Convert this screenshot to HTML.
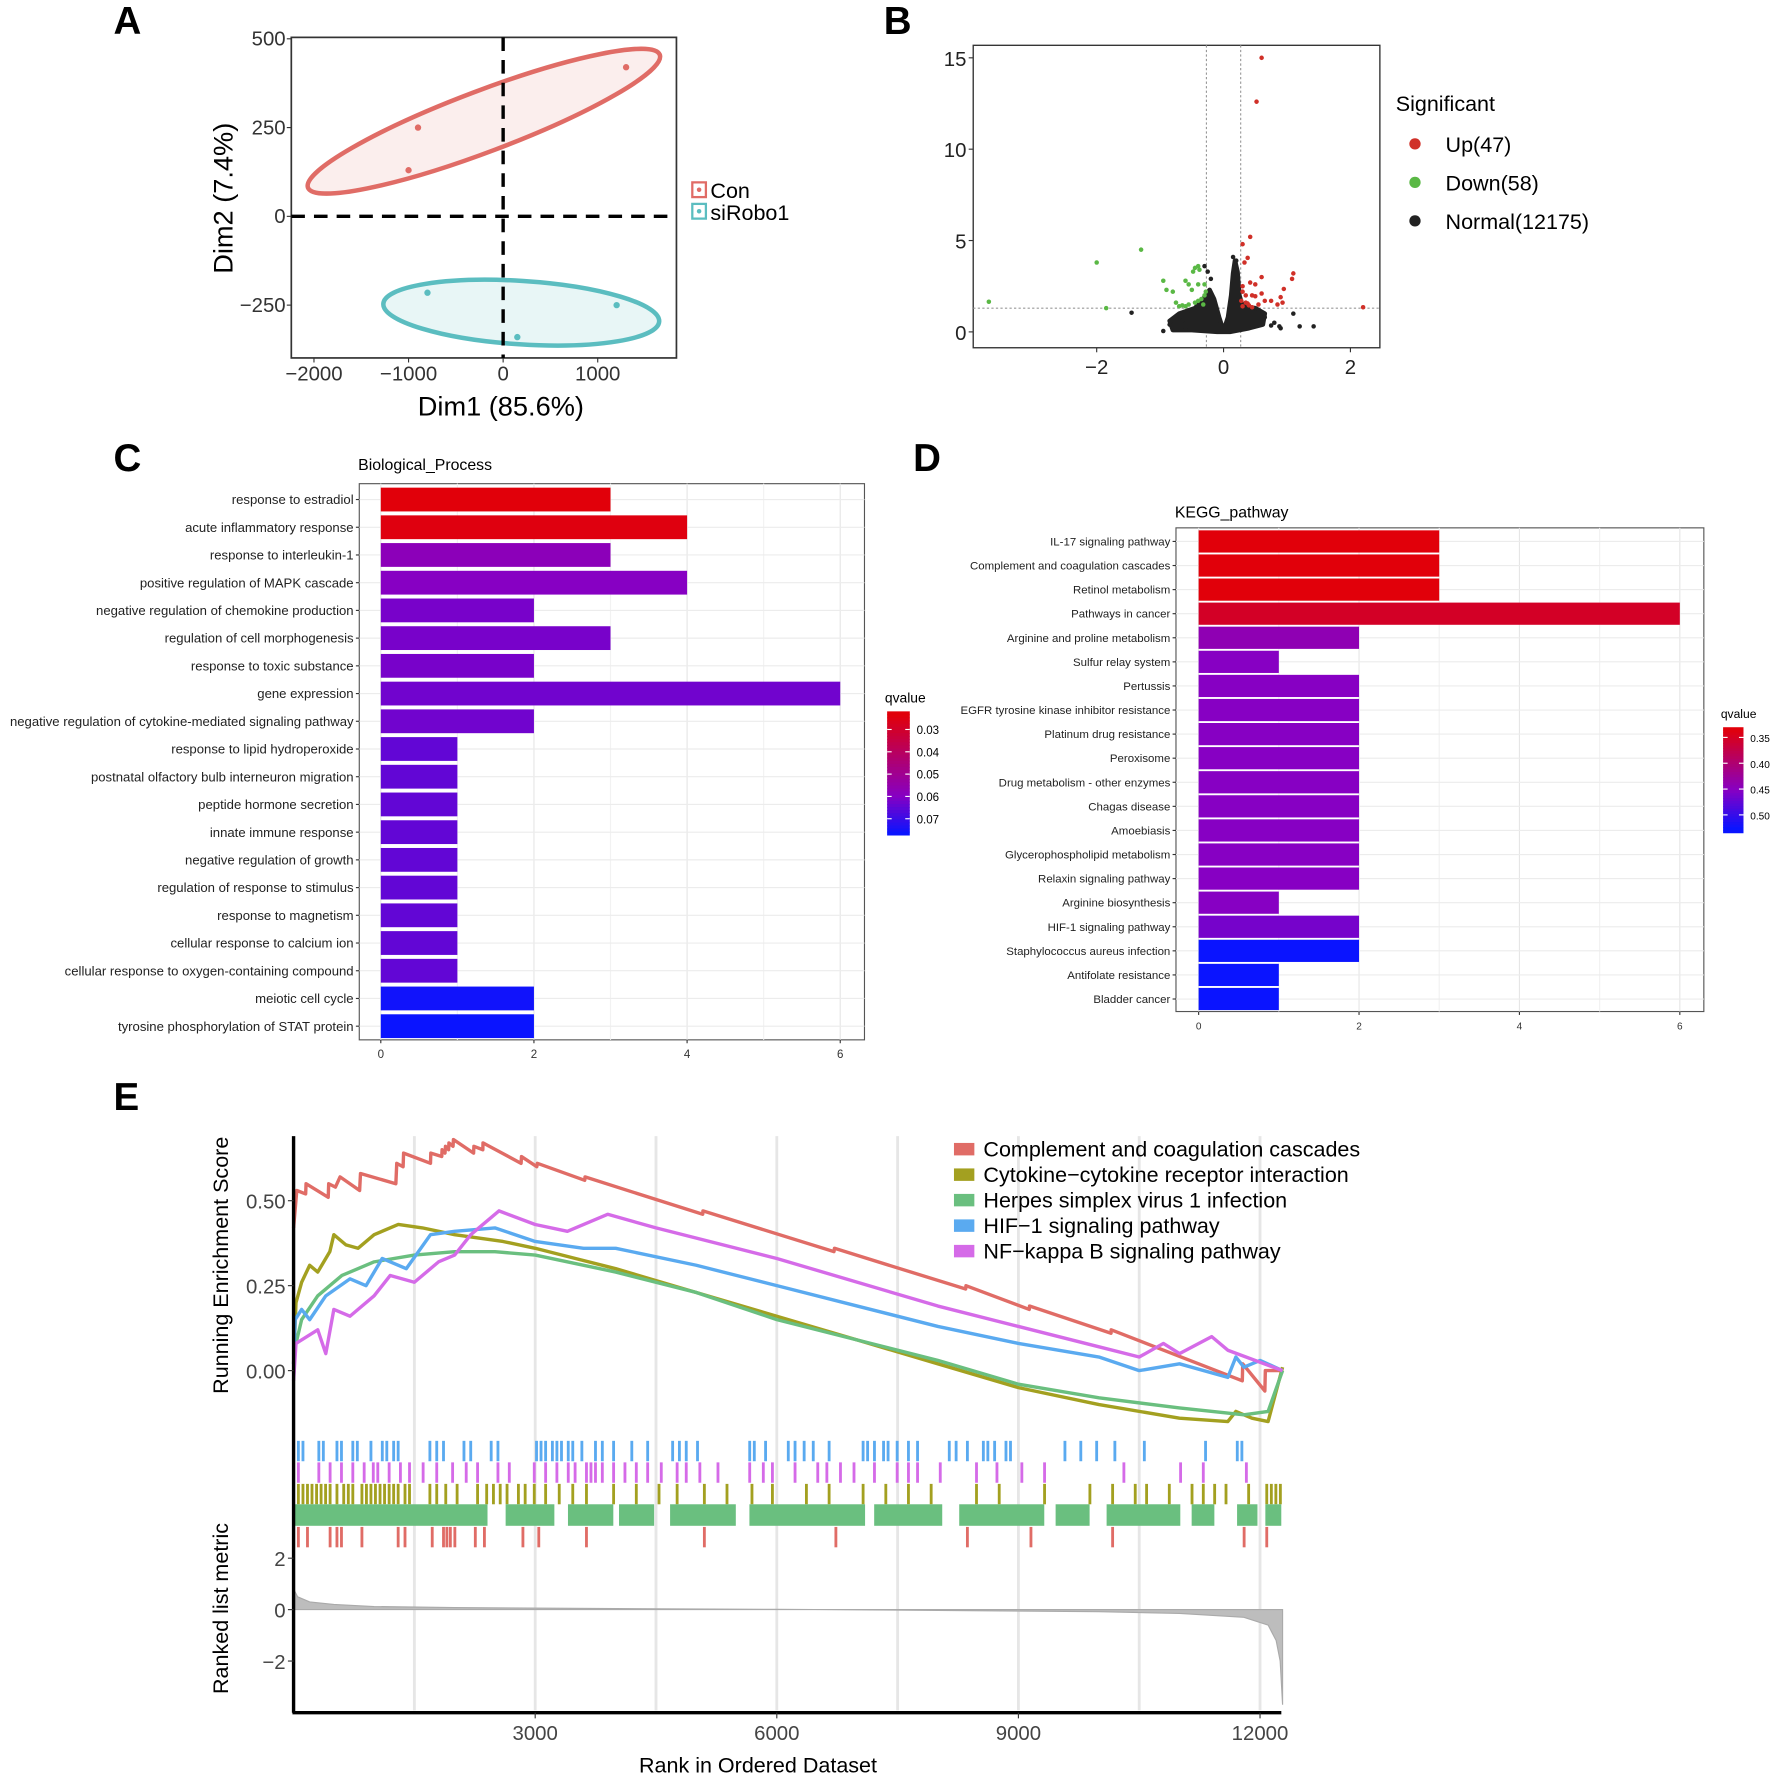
<!DOCTYPE html>
<html><head><meta charset="utf-8"><style>
html,body{margin:0;padding:0;background:#fff;}
svg{display:block;font-family:"Liberation Sans",Arial,sans-serif;}
</style></head><body>
<svg id="fig" width="1772" height="1775" viewBox="0 0 1564 1567" xmlns="http://www.w3.org/2000/svg">
<rect width="1564" height="1567" fill="#fff"/>
<g id="A"></g>
<g id="B"></g>
<g id="C"></g>
<g id="D"></g>
<g id="E"></g>
</svg>
<script>
// ---------- DATA ----------
// Panel A
const pcaConX=[1300,-900,-1000], pcaConY=[420,250,130];
const pcaSiX=[-800,1200,150], pcaSiY=[-215,-250,-340];
const pcaXTicks=[-2000,-1000,0,1000], pcaYTicks=[500,250,0,-250];
const pcaGroups=["Con","siRobo1"];
// Panel B
const upX=[0.6,0.52,0.42,0.3,0.33,0.38,0.6,0.42,0.3,0.5,1.1,1.08,0.95,0.9,0.93,0.6,0.3,0.35,0.45,0.5,0.75,0.65,0.35,0.4,0.55,0.3,0.45,2.2,0.85,0.28,0.38];
const upY=[15,12.6,5.2,4.8,3.8,4.05,3.0,2.7,2.5,2.6,3.2,2.9,2.35,1.9,1.6,2.1,2.2,2.0,2.0,1.95,1.7,1.7,1.6,1.45,1.5,1.4,1.35,1.35,1.5,1.7,1.55];
const downX=[-3.7,-2.0,-1.3,-1.85,-0.95,-0.9,-0.8,-0.75,-0.7,-0.6,-0.55,-0.45,-0.4,-0.48,-0.38,-0.4,-0.5,-0.55,-0.45,-0.35,-0.3,-0.3,-0.4,-0.6,-0.65,-0.32,-0.28];
const downY=[1.65,3.8,4.5,1.3,2.8,2.3,2.2,1.6,1.4,2.8,2.6,3.5,3.6,3.3,3.4,2.6,2.3,1.5,1.6,1.8,2.0,2.6,1.7,1.4,1.45,1.5,2.2];
const normX=[-0.95,-1.45,-0.3,-0.25,0.15,0.2,0.8,1.1,1.2,1.42,0.9,-0.7,-0.65,0.75,-0.2,0.65,-0.85,0.88,-0.6,0.55];
const normY=[0.05,1.05,3.6,3.3,4.1,3.9,0.5,1.0,0.3,0.3,0.2,0.7,0.6,0.35,2.9,0.8,0.4,0.3,0.15,1.1];
const cloudX=[-0.8,-0.85,-0.7,-0.45,-0.3,-0.22,-0.15,-0.07,0,0.07,0.12,0.15,0.18,0.22,0.25,0.3,0.5,0.65,0.62,0.4,0.1,-0.1,-0.5];
const cloudY=[0.1,0.6,1.0,1.3,1.9,2.3,1.8,0.8,0.05,0.8,2.0,3.2,3.9,3.3,2.0,1.4,1.3,1.0,0.4,0.2,0.0,0.0,0.1];
const volXTicks=[-2,0,2], volYTicks=[0,5,10,15];
const volLegend=["Up(47)","Down(58)","Normal(12175)"];
// Panel C
const goTerms=["response to estradiol","acute inflammatory response","response to interleukin-1","positive regulation of MAPK cascade","negative regulation of chemokine production","regulation of cell morphogenesis","response to toxic substance","gene expression","negative regulation of cytokine-mediated signaling pathway","response to lipid hydroperoxide","postnatal olfactory bulb interneuron migration","peptide hormone secretion","innate immune response","negative regulation of growth","regulation of response to stimulus","response to magnetism","cellular response to calcium ion","cellular response to oxygen-containing compound","meiotic cell cycle","tyrosine phosphorylation of STAT protein"];
const goCounts=[3,4,3,4,2,3,2,6,2,1,1,1,1,1,1,1,1,1,2,2];
const goQ=[0.023,0.024,0.058,0.06,0.062,0.062,0.062,0.063,0.063,0.065,0.065,0.065,0.065,0.065,0.065,0.065,0.065,0.065,0.076,0.077];
const goXTicks=[0,2,4,6], goQTicks=[0.03,0.04,0.05,0.06,0.07];
// Panel D
const keggTerms=["IL-17 signaling pathway","Complement and coagulation cascades","Retinol metabolism","Pathways in cancer","Arginine and proline metabolism","Sulfur relay system","Pertussis","EGFR tyrosine kinase inhibitor resistance","Platinum drug resistance","Peroxisome","Drug metabolism - other enzymes","Chagas disease","Amoebiasis","Glycerophospholipid metabolism","Relaxin signaling pathway","Arginine biosynthesis","HIF-1 signaling pathway","Staphylococcus aureus infection","Antifolate resistance","Bladder cancer"];
const keggCounts=[3,3,3,6,2,1,2,2,2,2,2,2,2,2,2,1,2,2,1,1];
const keggQ=[0.332,0.332,0.332,0.35,0.44,0.45,0.45,0.45,0.45,0.45,0.45,0.45,0.45,0.45,0.45,0.45,0.46,0.525,0.525,0.525];
const keggXTicks=[0,2,4,6], keggQTicks=[0.35,0.40,0.45,0.50];
// Panel E
const gseaNames=["Complement and coagulation cascades","Cytokine\u2212cytokine receptor interaction","Herpes simplex virus 1 infection","HIF\u22121 signaling pathway","NF\u2212kappa B signaling pathway"];
const esRedR=[0,40,150,155,430,436,520,577,820,831,1270,1281,1360,1366,1700,1704,1840,1844,1880,1886,1925,1929,1980,1985,2235,2239,2350,2352,2825,2830,3020,3027,3615,3619,5080,5083,6710,6716,8345,8349,9135,9138,10150,10152,11780,11785,12060,12066,12280];
const esRedV=[0.42,0.53,0.52,0.55,0.51,0.55,0.54,0.57,0.53,0.58,0.55,0.61,0.60,0.64,0.61,0.64,0.63,0.65,0.64,0.66,0.65,0.67,0.66,0.68,0.64,0.66,0.65,0.67,0.61,0.63,0.60,0.61,0.56,0.57,0.46,0.47,0.35,0.36,0.24,0.25,0.18,0.19,0.11,0.12,-0.03,0.02,-0.06,0.0,0.0];
const esOliveR=[0,30,100,200,300,450,500,650,800,1000,1300,1600,2000,2300,2600,3000,3500,4000,5000,6000,7000,8000,9000,10000,11000,11600,11700,11900,12100,12280];
const esOliveV=[0.02,0.20,0.26,0.31,0.29,0.35,0.40,0.37,0.36,0.40,0.43,0.42,0.40,0.39,0.38,0.36,0.33,0.30,0.23,0.16,0.09,0.02,-0.05,-0.10,-0.14,-0.15,-0.12,-0.14,-0.15,0.01];
const esGreenR=[0,100,300,600,1000,1500,2000,2500,3000,4000,5000,6000,7000,8000,9000,10000,11000,11800,12100,12280];
const esGreenV=[0.05,0.15,0.22,0.28,0.32,0.34,0.35,0.35,0.34,0.29,0.23,0.15,0.09,0.03,-0.04,-0.08,-0.11,-0.13,-0.12,0.0];
const esBlueR=[0,20,100,200,400,700,900,1100,1400,1700,2000,2500,3000,3600,4000,5000,6000,7000,8000,9000,10000,10500,11000,11600,11700,11800,12000,12280];
const esBlueV=[0.02,0.15,0.18,0.15,0.22,0.27,0.25,0.33,0.30,0.40,0.41,0.42,0.38,0.36,0.36,0.31,0.25,0.19,0.13,0.08,0.04,0.0,0.02,-0.02,0.04,0.01,0.03,0.0];
const esMagR=[0,30,300,400,500,700,1000,1200,1500,1800,2000,2200,2550,3000,3400,3900,4500,6000,7000,8000,9000,10000,10500,10800,11000,11400,11600,12280];
const esMagV=[-0.03,0.08,0.12,0.05,0.18,0.16,0.22,0.28,0.26,0.32,0.34,0.40,0.47,0.43,0.41,0.46,0.42,0.33,0.26,0.19,0.13,0.07,0.04,0.08,0.05,0.10,0.06,0.0];
const hitBlue=[42,99,296,352,521,577,718,774,943,1084,1140,1225,1281,1675,1760,1844,2098,2182,2436,2520,2999,3055,3112,3196,3252,3309,3393,3449,3562,3731,3816,3956,4182,4379,4689,4773,4858,4998,5646,5703,5843,6125,6209,6322,6435,6632,7054,7110,7195,7308,7364,7477,7617,7730,8124,8209,8349,8547,8603,8687,8828,8884,9560,9757,9954,10180,10546,11306,11700,11757];
const hitMag=[42,296,436,577,718,859,972,1028,1169,1309,1422,1591,1760,1957,2126,2267,2520,2661,2971,3112,3252,3393,3478,3619,3675,3731,3816,3956,4097,4238,4379,4548,4745,4858,5027,5252,5646,5815,5928,6209,6491,6604,6773,6941,7195,7477,7617,7730,8012,8462,8716,9025,9307,10292,10996,11278,11813];
const hitOlive=[42,99,155,211,268,324,380,436,521,605,662,718,831,887,943,999,1056,1112,1169,1225,1281,1366,1422,1675,1760,1872,2013,2267,2380,2464,2548,2633,2774,2858,2971,3112,3281,3449,3619,3956,4238,4520,4745,5083,5364,5674,5928,6350,6632,7054,7336,7617,7899,8462,8744,9307,9870,10152,10433,10574,10856,11138,11278,11419,11560,11841,12066,12123,12179,12235];
const hitGreenStart=[0,2633,3407,4041,4675,5660,7209,8265,9462,10095,11151,11715,12066];
const hitGreenEnd=[2408,3238,3970,4477,5491,7096,8054,9321,9884,11010,11433,11968,12264];
const hitRed=[42,155,436,521,577,831,1281,1366,1704,1844,1886,1929,1985,2239,2352,2830,3027,3619,5083,6716,8349,9138,10152,11785,12066];
const metricR=[0,50,200,500,1000,2000,4000,6000,8000,10000,11000,11800,12100,12200,12250,12280];
const metricV=[0.8,0.5,0.3,0.2,0.12,0.08,0.04,0.01,-0.03,-0.08,-0.15,-0.3,-0.6,-1.2,-2.0,-3.7];
const rankTicks=[3000,6000,9000,12000], esTicks=[0.5,0.25,0], metricTicks=[2,0,-2];
const rankGrid=[1500,3000,4500,6000,7500,9000,10500,12000];

// ---------- HELPERS ----------
const NS="http://www.w3.org/2000/svg";
function el(tag,attrs,parent,text){const e=document.createElementNS(NS,tag);for(const k in attrs)e.setAttribute(k,attrs[k]);if(text!==undefined)e.textContent=text;parent.appendChild(e);return e;}
function lerpCol(a,b,t){return "rgb("+a.map((v,i)=>Math.round(v+(b[i]-v)*t)).join(",")+")";}
function qcol(q,lo,mid,hi){const R=[225,0,10],P=[135,0,195],B=[10,20,255];if(q<=mid)return lerpCol(R,P,Math.max(0,(q-lo)/(mid-lo)));return lerpCol(P,B,Math.min(1,(q-mid)/(hi-mid)));}
function bigLetter(g,x,y,t){const e=el("text",{x:x,y:y,"font-size":34,"font-weight":"bold"},g,t);}

// ---------- PANEL A ----------
(function(){
const g=document.getElementById("A");
const sx=v=>444+v*0.0835, sy=v=>191-v*0.3135;
bigLetter(g,100,30,"A");
el("rect",{x:257,y:33,width:340,height:283,fill:"none",stroke:"#333","stroke-width":1.5},g);
const e1=el("ellipse",{cx:427,cy:107,rx:166,ry:27,transform:"rotate(-20.7 427 107)",fill:"#fbeeed",stroke:"#e06c66","stroke-width":4},g);

const e2=el("ellipse",{cx:460,cy:276,rx:122,ry:28,transform:"rotate(3.7 460 276)",fill:"#e8f6f6",stroke:"#5bbdc0","stroke-width":4},g);

el("line",{x1:444,y1:33,x2:444,y2:316,stroke:"#000","stroke-width":3,"stroke-dasharray":"12,8"},g);
el("line",{x1:257,y1:191,x2:597,y2:191,stroke:"#000","stroke-width":3,"stroke-dasharray":"12,8"},g);
pcaConX.forEach((v,i)=>{const c=el("circle",{cx:sx(v),cy:sy(pcaConY[i]),r:2.8,fill:"#e06c66"},g);});
pcaSiX.forEach((v,i)=>{const c=el("circle",{cx:sx(v),cy:sy(pcaSiY[i]),r:2.8,fill:"#5bbdc0"},g);});
pcaXTicks.forEach(v=>{el("line",{x1:sx(v),y1:316,x2:sx(v),y2:320,stroke:"#333"},g);el("text",{x:sx(v),y:336,"font-size":18,"text-anchor":"middle",fill:"#333"},g,v<0?"\u2212"+(-v):v);});
pcaYTicks.forEach(v=>{el("line",{x1:253,y1:sy(v),x2:257,y2:sy(v),stroke:"#333"},g);el("text",{x:252,y:sy(v)+6,"font-size":18,"text-anchor":"end",fill:"#333"},g,v<0?"\u2212"+(-v):v);});
const xl=el("text",{x:442,y:367,"font-size":24,"text-anchor":"middle"},g,"Dim1 (85.6%)");
const yl=el("text",{x:205,y:175,"font-size":24,"text-anchor":"middle",transform:"rotate(-90 205 175)"},g,"Dim2 (7.4%)");
const cols=["#e06c66","#5bbdc0"];
pcaGroups.forEach((n,i)=>{const y=168+i*19;const lg=el("g",{},g);
el("rect",{x:611,y:y-7,width:12,height:13,fill:"#fff",stroke:cols[i],"stroke-width":2},lg);el("circle",{cx:617,cy:y-0.5,r:2,fill:cols[i]},lg);
el("text",{x:627,y:y+7,"font-size":19},lg,n);});
})();

// ---------- PANEL B ----------
(function(){
const g=document.getElementById("B");
const sx=v=>1080+v*56, sy=v=>293-v*16.13;
bigLetter(g,780,30,"B");
el("rect",{x:859,y:40,width:359,height:267,fill:"none",stroke:"#333","stroke-width":1.2},g);
[-0.27,0.27].forEach(v=>el("line",{x1:sx(v),y1:40,x2:sx(v),y2:307,stroke:"#999","stroke-dasharray":"2,2"},g));
el("line",{x1:859,y1:sy(1.3),x2:1218,y2:sy(1.3),stroke:"#999","stroke-dasharray":"2,2"},g);
const cl=el("polygon",{points:cloudX.map((v,i)=>sx(v)+","+sy(cloudY[i])).join(" "),fill:"#222",stroke:"#222","stroke-width":4,"stroke-linejoin":"round"},g);

normX.forEach((v,i)=>{const c=el("circle",{cx:sx(v),cy:sy(normY[i]),r:2,fill:"#222"},g);});
upX.forEach((v,i)=>{const c=el("circle",{cx:sx(v),cy:sy(upY[i]),r:2,fill:"#d03028"},g);});
downX.forEach((v,i)=>{const c=el("circle",{cx:sx(v),cy:sy(downY[i]),r:2,fill:"#5ab845"},g);});
volXTicks.forEach(v=>{el("line",{x1:sx(v),y1:307,x2:sx(v),y2:311,stroke:"#333"},g);el("text",{x:sx(v),y:330,"font-size":18,"text-anchor":"middle",fill:"#222"},g,v<0?"\u2212"+(-v):v);});
volYTicks.forEach(v=>{el("line",{x1:855,y1:sy(v),x2:859,y2:sy(v),stroke:"#333"},g);el("text",{x:853,y:sy(v)+7,"font-size":18,"text-anchor":"end",fill:"#222"},g,v);});
el("text",{x:1232,y:98,"font-size":19},g,"Significant");
const cols=["#d03028","#5ab845","#222"];
volLegend.forEach((n,i)=>{const y=127+i*34;const lg=el("g",{},g);
el("circle",{cx:1249,cy:y,r:5,fill:cols[i]},lg);el("text",{x:1276,y:y+7,"font-size":19},lg,n);});
})();

// ---------- BAR PANELS ----------
function barPanel(g,terms,counts,qs,cfg){
 const sx=v=>cfg.x0+v*cfg.xs, rowY=i=>cfg.y0+i*cfg.step;
 el("text",{x:cfg.tx,y:cfg.ty,"font-size":14},g,cfg.title);
 el("rect",{x:cfg.bx,y:cfg.by,width:cfg.bw,height:cfg.bh,fill:"#fff",stroke:"#555","stroke-width":1},g);
 [1,3,5].forEach(v=>el("line",{x1:sx(v),y1:cfg.by,x2:sx(v),y2:cfg.by+cfg.bh,stroke:"#f2f2f2"},g));
 cfg.xt.forEach(v=>el("line",{x1:sx(v),y1:cfg.by,x2:sx(v),y2:cfg.by+cfg.bh,stroke:"#e6e6e6"},g));
 terms.forEach((t,i)=>el("line",{x1:cfg.bx,y1:rowY(i),x2:cfg.bx+cfg.bw,y2:rowY(i),stroke:"#ececec"},g));
 terms.forEach((t,i)=>{const y=rowY(i);
  const r=el("rect",{x:sx(0),y:y-cfg.bhh,width:sx(counts[i])-sx(0),height:cfg.bhh*2,fill:qcol(qs[i],cfg.qlo,cfg.qmid,cfg.qhi)},g);
  
  el("line",{x1:cfg.bx-3,y1:y,x2:cfg.bx,y2:y,stroke:"#333"},g);
  const lt=el("text",{x:cfg.bx-5,y:y+cfg.fs*0.35,"font-size":cfg.fs,"text-anchor":"end",fill:"#222"},g,t);
  });
 cfg.xt.forEach(v=>{el("line",{x1:sx(v),y1:cfg.by+cfg.bh,x2:sx(v),y2:cfg.by+cfg.bh+3,stroke:"#333"},g);el("text",{x:sx(v),y:cfg.by+cfg.bh+16,"font-size":cfg.tfs,"text-anchor":"middle",fill:"#333"},g,v);});
 const lgd=el("g",{},g);
 el("text",{x:cfg.cbx-2,y:cfg.cby-8,"font-size":cfg.tfs*1.2},lgd,"qvalue");
 const qy=q=>cfg.cbq0y+(q-cfg.qt[0])*cfg.cbk;
 const n=40;for(let k=0;k<n;k++){const y=cfg.cby+k*(cfg.cbh/n);const q=cfg.qtop+(cfg.qbot-cfg.qtop)*(k/(n-1));
  el("rect",{x:cfg.cbx,y:y,width:cfg.cbw,height:cfg.cbh/n+0.6,fill:qcol(q,cfg.qlo,cfg.qmid,cfg.qhi)},lgd);}
 cfg.qt.forEach(q=>{const y=qy(q);el("line",{x1:cfg.cbx,y1:y,x2:cfg.cbx+4,y2:y,stroke:"#fff"},lgd);el("line",{x1:cfg.cbx+cfg.cbw-4,y1:y,x2:cfg.cbx+cfg.cbw,y2:y,stroke:"#fff"},lgd);
  el("text",{x:cfg.cbx+cfg.cbw+6,y:y+4,"font-size":cfg.tfs},lgd,q.toFixed(2));});
}
(function(){const g=document.getElementById("C");bigLetter(g,100,416,"C");
barPanel(g,goTerms,goCounts,goQ,{x0:336,xs:67.6,y0:441,step:24.47,bhh:10.5,tx:316,ty:415,title:"Biological_Process",bx:317,by:427,bw:446,bh:491,xt:goXTicks,fs:11.6,tfs:10.2,
 qlo:0.023,qmid:0.06,qhi:0.077,cbx:783,cby:628,cbw:20,cbh:109,qtop:0.022,qbot:0.077,qt:goQTicks,cbq0y:644,cbk:1970});})();
(function(){const g=document.getElementById("D");bigLetter(g,806,416,"D");
barPanel(g,keggTerms,keggCounts,keggQ,{x0:1058,xs:70.8,y0:478,step:21.26,bhh:9.8,tx:1037,ty:457,title:"KEGG_pathway",bx:1038,by:466,bw:466,bh:427,xt:keggXTicks,fs:10.1,tfs:8.9,
 qlo:0.332,qmid:0.45,qhi:0.525,cbx:1521,cby:642,cbw:18,cbh:93,qtop:0.33,qbot:0.53,qt:keggQTicks,cbq0y:651,cbk:456});})();

// ---------- PANEL E ----------
(function(){
const g=document.getElementById("E");
const sx=r=>259+r*0.0711, sy=v=>1210-v*300, my=v=>1421-v*22.7;
bigLetter(g,100,980,"E");
rankGrid.forEach(r=>el("line",{x1:sx(r),y1:1003,x2:sx(r),y2:1510,stroke:"#e6e6e6","stroke-width":2.5},g));
const rows=[[hitBlue,"#5aaaf0",1272],[hitMag,"#d56be8",1291],[hitOlive,"#a3a020",1310],[hitRed,"#e06c66",1348]];
rows.forEach(([arr,c,y])=>arr.forEach(r=>{const h=el("rect",{x:sx(r),y:y,width:2.5,height:18,fill:c},g);}));
hitGreenStart.forEach((s,i)=>{const h=el("rect",{x:sx(s),y:1328,width:sx(hitGreenEnd[i])-sx(s),height:19,fill:"#6abf7f"},g);});
let d="M"+sx(metricR[0])+","+my(0);metricR.forEach((r,i)=>d+=" L"+sx(r)+","+my(metricV[i]));d+=" L"+sx(metricR[metricR.length-1])+","+my(0)+" Z";
const ar=el("path",{d:d,fill:"#bdbdbd",stroke:"#aaa"},g);
const series=[[esRedR,esRedV,"#e06c66"],[esOliveR,esOliveV,"#a3a020"],[esGreenR,esGreenV,"#6abf7f"],[esBlueR,esBlueV,"#5aaaf0"],[esMagR,esMagV,"#d56be8"]];
series.forEach(([R,V,c])=>{const p=el("polyline",{points:R.map((r,i)=>sx(r)+","+sy(V[i])).join(" "),fill:"none",stroke:c,"stroke-width":3,"stroke-linejoin":"round"},g);
 });
el("line",{x1:259,y1:1003,x2:259,y2:1512,stroke:"#000","stroke-width":3},g);
el("line",{x1:258,y1:1512,x2:1131,y2:1512,stroke:"#000","stroke-width":3},g);
esTicks.forEach(v=>{el("line",{x1:254,y1:sy(v),x2:259,y2:sy(v),stroke:"#333"},g);el("text",{x:252,y:sy(v)+7,"font-size":18,"text-anchor":"end",fill:"#444"},g,v.toFixed(2));});
metricTicks.forEach(v=>{el("line",{x1:254,y1:my(v),x2:259,y2:my(v),stroke:"#333"},g);el("text",{x:252,y:my(v)+7,"font-size":18,"text-anchor":"end",fill:"#444"},g,v<0?"\u2212"+(-v):v);});
rankTicks.forEach(r=>{el("line",{x1:sx(r),y1:1512,x2:sx(r),y2:1517,stroke:"#333"},g);el("text",{x:sx(r),y:1536,"font-size":18,"text-anchor":"middle",fill:"#444"},g,r);});
const t1=el("text",{x:201,y:1117,"font-size":19,"text-anchor":"middle",transform:"rotate(-90 201 1117)"},g,"Running Enrichment Score");
const t2=el("text",{x:201,y:1420,"font-size":19,"text-anchor":"middle",transform:"rotate(-90 201 1420)"},g,"Ranked list metric");
const t3=el("text",{x:669,y:1565,"font-size":19,"text-anchor":"middle"},g,"Rank in Ordered Dataset");
const cols=["#e06c66","#a3a020","#6abf7f","#5aaaf0","#d56be8"];
gseaNames.forEach((n,i)=>{const y=1014+i*22.5;const lg=el("g",{},g);
el("rect",{x:842,y:y-5,width:18,height:11,fill:cols[i]},lg);el("text",{x:868,y:y+7,"font-size":19},lg,n);});
})();
</script>
</body></html>
